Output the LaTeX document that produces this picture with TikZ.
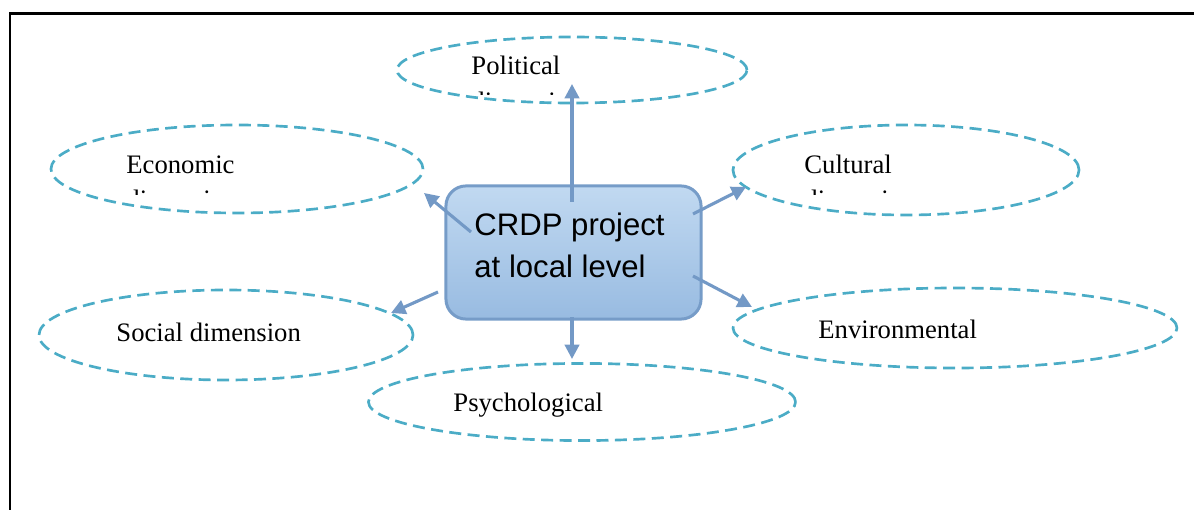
\documentclass[tikz,border=0pt]{standalone}
\usepackage{fontspec}
\setmainfont{Liberation Serif}
\newfontfamily\boxfont{Liberation Sans}
\usetikzlibrary{arrows.meta,shapes.geometric}
\definecolor{cdim}{RGB}{75,172,198}
\definecolor{carr}{RGB}{115,153,198}
\definecolor{cboxtop}{RGB}{193,217,241}
\definecolor{cboxbot}{RGB}{152,187,225}
\definecolor{cboxln}{RGB}{118,156,200}

\begin{document}
\begin{tikzpicture}[x=0.45pt,y=-0.45pt,font=\fontsize{12}{15.75}\selectfont,
  dim/.style={draw=cdim,line width=1.2pt,dash pattern=on 5.4pt off 2.9pt,ellipse,inner sep=0pt},
  lbl/.style={anchor=base west,inner sep=0pt},
  lbltwo/.style={anchor=north west,inner sep=0pt,align=left},
  link/.style={-{Triangle[length=6.5pt,width=6.5pt]},carr,line width=1.4pt},
]
\useasboundingbox (0,0) rectangle (1194,510);
% frame
\draw[line width=1.2pt] (10,510) -- (10,13.5) -- (1194,13.5);

% dimensions
\node[dim,minimum width=157.5pt,minimum height=29.7pt] (pol) at (572,70) {};
\node[dim,minimum width=167.4pt,minimum height=39.6pt] (eco) at (237,169) {};
\node[dim,minimum width=155.7pt,minimum height=40.5pt] (cul) at (906,170) {};
\node[dim,minimum width=168.3pt,minimum height=40.5pt] (soc) at (226,335) {};
\node[dim,minimum width=199.8pt,minimum height=36pt] (env) at (955,328) {};
\node[dim,minimum width=192.2pt,minimum height=34.7pt] (psy) at (582,402) {};

% second lines cut off by the text boxes
\begin{scope}
  \clip (420,40) rectangle (720,95);
  \node[lbl] (polt) at (471,75) {Political};
  \node[lbl] (poltb) at (471,111) {dimension};
\end{scope}
\begin{scope}
  \clip (70,130) rectangle (400,195);
  \node[lbl] (ecot) at (126,173) {Economic};
  \node[lbl] (ecotb) at (126,208) {dimension};
\end{scope}
\begin{scope}
  \clip (760,130) rectangle (1050,195);
  \node[lbl] (cult) at (804,173) {Cultural};
  \node[lbl] (cultb) at (804,208) {dimension};
\end{scope}
\node[lbl] (soct) at (116,341) {Social dimension};
\node[lbl] (envt) at (818,338) {Environmental};
\node[lbl] (psyt) at (453,411) {Psychological};

% project box
\node[draw=cboxln,line width=1.35pt,rounded corners=9pt,top color=cboxtop,bottom color=cboxbot,
  minimum width=114.8pt,minimum height=59.9pt,inner sep=0pt] (crdp) at (573.5,252.5) {};
\node[lbltwo,font=\boxfont\fontsize{14}{18.9}\selectfont] (crdpt) at (474,212.7) {CRDP project\\at local level};

% links
\coordinate (polS) at (572,202);  \coordinate (polE) at (572,84);
\coordinate (ecoS) at (471,232);  \coordinate (ecoE) at (424,193);
\coordinate (culS) at (693,214);  \coordinate (culE) at (746,187);
\coordinate (socS) at (438,292);  \coordinate (socE) at (391,313);
\coordinate (envS) at (693,276);  \coordinate (envE) at (752,307);
\coordinate (psyS) at (572,317);  \coordinate (psyE) at (572,359);
\draw[link] (polS) -- (polE);
\draw[link] (ecoS) -- (ecoE);
\draw[link] (culS) -- (culE);
\draw[link] (socS) -- (socE);
\draw[link] (envS) -- (envE);
\draw[link] (psyS) -- (psyE);
\end{tikzpicture}
\end{document}
